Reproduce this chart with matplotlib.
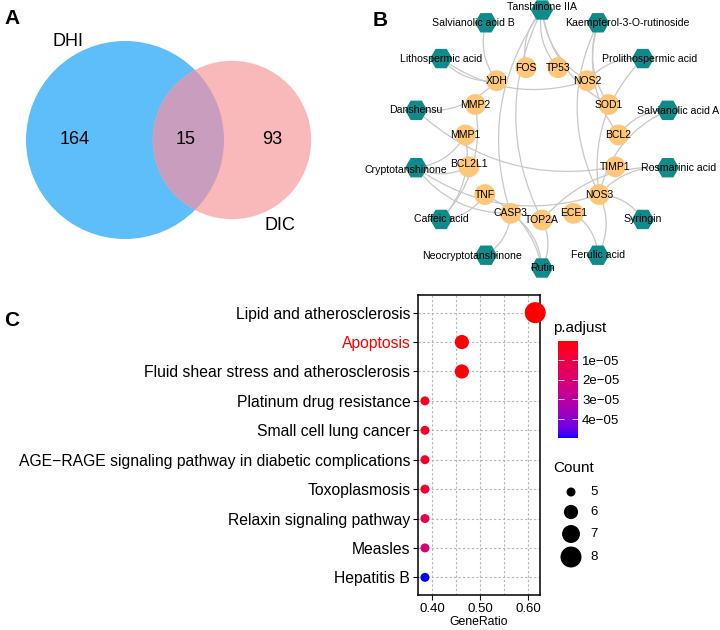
import numpy as np
import matplotlib
matplotlib.use('Agg')
import matplotlib.pyplot as plt
from matplotlib.patches import Circle, FancyArrowPatch
from matplotlib.colors import ListedColormap, Normalize
from matplotlib.cm import ScalarMappable

plt.rcParams['font.family'] = ['Liberation Sans', 'DejaVu Sans']

# ---- panel A : venn
set_names = ['DHI', 'DIC']
set_sizes = [179, 108]
only_dhi = 164
only_dic = 93
shared = 15

# ---- panel B : compound-target network
compounds = ['Tanshinone IIA', 'Kaempferol-3-O-rutinoside', 'Prolithospermic acid',
             'Salvianolic acid A', 'Rosmarinic acid', 'Syringin', 'Ferulic acid', 'Rutin',
             'Neocryptotanshinone', 'Caffeic acid', 'Cryptotanshinone', 'Danshensu',
             'Lithospermic acid', 'Salvianolic acid B']
genes = ['TP53', 'NOS2', 'SOD1', 'BCL2', 'TIMP1', 'NOS3', 'ECE1', 'TOP2A', 'CASP3',
         'TNF', 'BCL2L1', 'MMP1', 'MMP2', 'XDH', 'FOS']
edges = [('Tanshinone IIA', 'FOS'), ('Tanshinone IIA', 'TP53'), ('Tanshinone IIA', 'NOS2'),
         ('Tanshinone IIA', 'SOD1'), ('Tanshinone IIA', 'TOP2A'), ('Tanshinone IIA', 'CASP3'),
         ('Kaempferol-3-O-rutinoside', 'BCL2'), ('Kaempferol-3-O-rutinoside', 'SOD1'),
         ('Kaempferol-3-O-rutinoside', 'NOS3'),
         ('Prolithospermic acid', 'NOS2'), ('Prolithospermic acid', 'NOS3'),
         ('Salvianolic acid A', 'BCL2'), ('Salvianolic acid A', 'NOS3'),
         ('Rosmarinic acid', 'NOS3'), ('Rosmarinic acid', 'TOP2A'),
         ('Syringin', 'NOS3'),
         ('Ferulic acid', 'ECE1'), ('Ferulic acid', 'NOS3'),
         ('Rutin', 'CASP3'), ('Rutin', 'TOP2A'), ('Rutin', 'TNF'),
         ('Neocryptotanshinone', 'CASP3'),
         ('Caffeic acid', 'TNF'), ('Caffeic acid', 'MMP1'), ('Caffeic acid', 'MMP2'),
         ('Cryptotanshinone', 'BCL2L1'), ('Cryptotanshinone', 'MMP1'),
         ('Cryptotanshinone', 'NOS3'), ('Cryptotanshinone', 'CASP3'),
         ('Danshensu', 'XDH'), ('Danshensu', 'TIMP1'),
         ('Lithospermic acid', 'XDH'), ('Lithospermic acid', 'NOS2'),
         ('Salvianolic acid B', 'XDH')]

# ---- panel C : KEGG dot plot
pathways = ['Lipid and atherosclerosis', 'Apoptosis', 'Fluid shear stress and atherosclerosis',
            'Platinum drug resistance', 'Small cell lung cancer',
            'AGE\u2212RAGE signaling pathway in diabetic complications', 'Toxoplasmosis',
            'Relaxin signaling pathway', 'Measles', 'Hepatitis B']
gene_ratio = [0.615, 0.462, 0.462, 0.385, 0.385, 0.385, 0.385, 0.385, 0.385, 0.385]
counts = [8, 6, 6, 5, 5, 5, 5, 5, 5, 5]
p_adjust = [3.5e-7, 8e-7, 1.1e-6, 3.8e-6, 4.5e-6, 5.4e-6, 7.2e-6, 1.3e-5, 2.0e-5, 4.96e-5]
cbar_ticks = [1e-5, 2e-5, 3e-5, 4e-5]
legend_counts = [5, 6, 7, 8]


def srgb_to_lab(rgb):
    c = np.asarray(rgb, float)
    lin = np.where(c <= 0.04045, c / 12.92, ((c + 0.055) / 1.055) ** 2.4)
    M = np.array([[0.4124, 0.3576, 0.1805], [0.2126, 0.7152, 0.0722], [0.0193, 0.1192, 0.9505]])
    xyz = M @ lin / np.array([0.95047, 1.0, 1.08883])
    f = np.where(xyz > 0.008856, np.cbrt(xyz), 7.787 * xyz + 16 / 116)
    return np.array([116 * f[1] - 16, 500 * (f[0] - f[1]), 200 * (f[1] - f[2])])


def lab_to_srgb(lab):
    L, a, b = lab
    fy = (L + 16) / 116
    f = np.array([fy + a / 500, fy, fy - b / 200])
    xyz = np.where(f ** 3 > 0.008856, f ** 3, (f - 16 / 116) / 7.787) * np.array([0.95047, 1.0, 1.08883])
    Minv = np.array([[3.2406, -1.5372, -0.4986], [-0.9689, 1.8758, 0.0415], [0.0557, -0.2040, 1.0570]])
    lin = np.clip(Minv @ xyz, 0, 1)
    return np.where(lin <= 0.0031308, 12.92 * lin, 1.055 * lin ** (1 / 2.4) - 0.055)


# red -> blue gradient interpolated in Lab like ggplot
lab_r = srgb_to_lab([1, 0, 0])
lab_b = srgb_to_lab([0, 0, 1])
cmap = ListedColormap([np.clip(lab_to_srgb(lab_r + t * (lab_b - lab_r)), 0, 1)
                       for t in np.linspace(0, 1, 256)])
norm = Normalize(vmin=min(p_adjust), vmax=max(p_adjust))


def dot_size(c):
    # area grows linearly with count (px^2 -> pt^2)
    return (81 + 120 * (np.asarray(c) - 5)) * 0.72 ** 2


fig = plt.figure(figsize=(7.2, 6.3), dpi=100)

# overlay axes in pixel coordinates for panels A and B
ax0 = fig.add_axes([0, 0, 1, 1])
ax0.set_xlim(0, 720)
ax0.set_ylim(630, 0)
ax0.axis('off')

# ---------- A
r_dhi = 99
r_dic = r_dhi * np.sqrt(set_sizes[1] / set_sizes[0]) * 1.03
c_dhi = (125, 140)
c_dic = (232, 140)
blue = Circle(c_dhi, r_dhi, fc='#5EBEF9', ec='none', zorder=1)
pink = Circle(c_dic, r_dic, fc='#F9B8BA', ec='none', zorder=1)
ax0.add_patch(blue)
ax0.add_patch(pink)
inter = Circle(c_dic, r_dic, fc='#C99DBD', ec='none', zorder=2)
ax0.add_patch(inter)
inter.set_clip_path(blue)
ax0.text(68, 42, set_names[0], fontsize=13, ha='center', va='center')
ax0.text(280, 225, set_names[1], fontsize=13, ha='center', va='center')
ax0.text(75, 139, str(only_dhi), fontsize=13, ha='center', va='center')
ax0.text(186, 139, str(shared), fontsize=13, ha='center', va='center')
ax0.text(272, 139, str(only_dic), fontsize=13, ha='center', va='center')
ax0.text(12, 18, 'A', fontsize=15, fontweight='bold', ha='center', va='center')

# ---------- B
cx, cy = 542, 139
ang_c = np.deg2rad(90 - np.arange(len(compounds)) * 360 / len(compounds))
pos = {n: (cx + 129 * np.cos(a), cy - 129 * np.sin(a)) for n, a in zip(compounds, ang_c)}
ang_g = np.deg2rad(78 - np.arange(len(genes)) * 360 / len(genes))
pos.update({n: (cx + 77 * np.cos(a), cy + 4 - 77 * np.sin(a)) for n, a in zip(genes, ang_g)})

for a, b in edges:
    ax0.add_patch(FancyArrowPatch(pos[a], pos[b], arrowstyle='-',
                                  connectionstyle='arc3,rad=0.25', color='#c8c8c8',
                                  lw=0.9, shrinkA=0, shrinkB=0, zorder=2))

ax0.scatter([pos[n][0] for n in compounds], [pos[n][1] for n in compounds],
            marker='H', s=260, c='#0E8B8A', edgecolors='none', zorder=3)
ax0.scatter([pos[n][0] for n in genes], [pos[n][1] for n in genes],
            marker='o', s=225, c='#FDC77A', edgecolors='none', zorder=3)

label_shift = {'Tanshinone IIA': (0, -3), 'Salvianolic acid B': (-13, 0),
               'Kaempferol-3-O-rutinoside': (29, 0), 'Prolithospermic acid': (7, 0),
               'Salvianolic acid A': (10, 1), 'Rosmarinic acid': (11, 0),
               'Cryptotanshinone': (-10, 2), 'Neocryptotanshinone': (-14, 1),
               'BCL2L1': (0, -3)}
for n in compounds + genes:
    dx, dy = label_shift.get(n, (0, 0))
    ax0.text(pos[n][0] + dx, pos[n][1] + dy, n, fontsize=7.6 if n in compounds else 7.5,
             ha='center', va='center', zorder=4)
ax0.text(380, 20, 'B', fontsize=15, fontweight='bold', ha='center', va='center')

# ---------- C
ax0.text(12, 321, 'C', fontsize=15, fontweight='bold', ha='center', va='center')
ax = fig.add_axes([418 / 720, 35 / 630, 122 / 720, 300 / 630])
ypos = np.arange(len(pathways))
ax.scatter(gene_ratio, ypos, s=dot_size(counts), c=p_adjust, cmap=cmap, norm=norm,
           edgecolors='none', zorder=3, clip_on=False)
ax.set_xlim(0.3705, 0.625)
ax.set_ylim(len(pathways) - 0.4, -0.6)
ax.set_yticks(ypos)
ax.set_yticklabels(pathways, fontsize=11.3)
ax.set_xticks([0.40, 0.50, 0.60])
ax.set_xticks([0.45, 0.55], minor=True)
ax.set_xticklabels(['0.40', '0.50', '0.60'], fontsize=9.5)
ax.tick_params(which='major', length=3.5, width=0.8, pad=2, colors='black')
ax.tick_params(which='minor', length=0)
# highlight Apoptosis (after tick_params, which resets label colours)
ax.yaxis.get_major_ticks()[pathways.index('Apoptosis')].label1.set_color('red')
ax.grid(True, which='both', ls=(0, (2, 2)), color='#b5b5b5', lw=0.8, zorder=0)
ax.set_xlabel('GeneRatio', fontsize=8.8, labelpad=1)
for sp in ax.spines.values():
    sp.set_linewidth(1.1)

# colour bar
cax = fig.add_axes([558 / 720, 192 / 630, 20 / 720, 97 / 630])
cb = fig.colorbar(ScalarMappable(norm=norm, cmap=cmap), cax=cax)
cb.outline.set_visible(False)
cax.invert_yaxis()
cb.set_ticks(cbar_ticks)
cb.set_ticklabels([('%.0e' % t).replace('-', '\u2212') for t in cbar_ticks])
cax.tick_params(axis='y', direction='in', color='white', length=4, width=0.6,
                left=True, right=True, labelsize=9.5, pad=3)
ax0.text(553, 328, 'p.adjust', fontsize=11, ha='left', va='center')

# size legend
ax0.text(553, 468, 'Count', fontsize=11, ha='left', va='center')
leg_y = [492, 512, 534, 557]
ax0.scatter([571] * len(legend_counts), leg_y, s=dot_size(legend_counts), c='black',
            edgecolors='none')
for c, y in zip(legend_counts, leg_y):
    ax0.text(590, y, str(c), fontsize=9.5, ha='left', va='center')

fig.savefig('out.png', dpi=100)
